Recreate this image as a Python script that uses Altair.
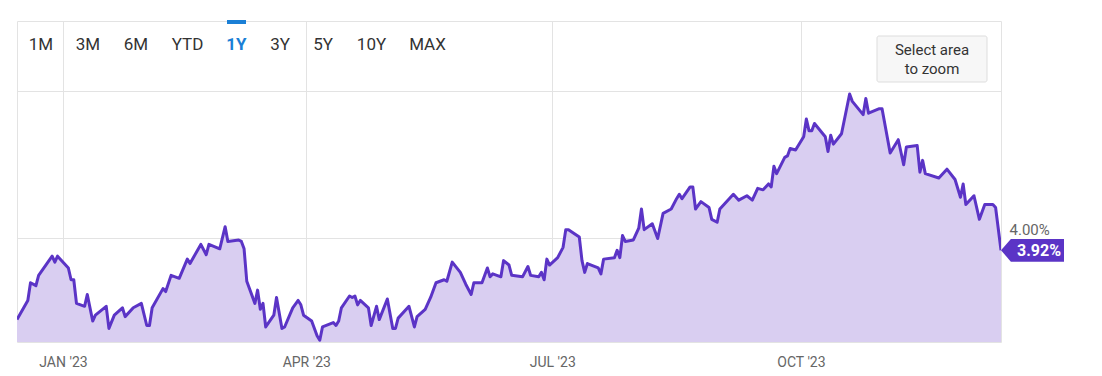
import altair as alt
import pandas as pd

dates = [
    "2022-12-15", "2022-12-19", "2022-12-20", "2022-12-22", "2022-12-23", "2022-12-28", "2022-12-29", "2022-12-30",
    "2023-01-03", "2023-01-04", "2023-01-05", "2023-01-06", "2023-01-09", "2023-01-10", "2023-01-12", "2023-01-13",
    "2023-01-17", "2023-01-18", "2023-01-20", "2023-01-23", "2023-01-24", "2023-01-27", "2023-01-30", "2023-02-01",
    "2023-02-02", "2023-02-03", "2023-02-07", "2023-02-08", "2023-02-10", "2023-02-13", "2023-02-16", "2023-02-17",
    "2023-02-21", "2023-02-23", "2023-02-24", "2023-02-28", "2023-03-02", "2023-03-03", "2023-03-07", "2023-03-08",
    "2023-03-09", "2023-03-10", "2023-03-13", "2023-03-14", "2023-03-15", "2023-03-16", "2023-03-17", "2023-03-20",
    "2023-03-21", "2023-03-23", "2023-03-24", "2023-03-27", "2023-03-29", "2023-03-30", "2023-03-31", "2023-04-03",
    "2023-04-05", "2023-04-06", "2023-04-07", "2023-04-11", "2023-04-12", "2023-04-13", "2023-04-14", "2023-04-17",
    "2023-04-18", "2023-04-19", "2023-04-20", "2023-04-21", "2023-04-24", "2023-04-25", "2023-04-27", "2023-04-28",
    "2023-05-01", "2023-05-03", "2023-05-04", "2023-05-05", "2023-05-09", "2023-05-11", "2023-05-12", "2023-05-15",
    "2023-05-17", "2023-05-19", "2023-05-22", "2023-05-23", "2023-05-25", "2023-05-28", "2023-05-30", "2023-06-01",
    "2023-06-02", "2023-06-05", "2023-06-07", "2023-06-08", "2023-06-09", "2023-06-12", "2023-06-13", "2023-06-15",
    "2023-06-16", "2023-06-20", "2023-06-22", "2023-06-23", "2023-06-26", "2023-06-27", "2023-06-28", "2023-06-29",
    "2023-06-30", "2023-07-03", "2023-07-05", "2023-07-06", "2023-07-07", "2023-07-11", "2023-07-12", "2023-07-13",
    "2023-07-14", "2023-07-18", "2023-07-19", "2023-07-20", "2023-07-24", "2023-07-25", "2023-07-26", "2023-07-27",
    "2023-07-28", "2023-07-31", "2023-08-02", "2023-08-03", "2023-08-04", "2023-08-07", "2023-08-09", "2023-08-11",
    "2023-08-14", "2023-08-16", "2023-08-17", "2023-08-18", "2023-08-21", "2023-08-22", "2023-08-23", "2023-08-25",
    "2023-08-28", "2023-08-29", "2023-08-31", "2023-09-01", "2023-09-06", "2023-09-08", "2023-09-11", "2023-09-13",
    "2023-09-15", "2023-09-17", "2023-09-19", "2023-09-20", "2023-09-21", "2023-09-22", "2023-09-25", "2023-09-26",
    "2023-09-27", "2023-09-29", "2023-10-02", "2023-10-03", "2023-10-04", "2023-10-05", "2023-10-06", "2023-10-10",
    "2023-10-11", "2023-10-12", "2023-10-13", "2023-10-16", "2023-10-19", "2023-10-20", "2023-10-24", "2023-10-25",
    "2023-10-26", "2023-10-30", "2023-10-31", "2023-11-03", "2023-11-06", "2023-11-08", "2023-11-09", "2023-11-13",
    "2023-11-14", "2023-11-15", "2023-11-16", "2023-11-21", "2023-11-24", "2023-11-27", "2023-11-29", "2023-11-30",
    "2023-12-01", "2023-12-04", "2023-12-06", "2023-12-08", "2023-12-11", "2023-12-12", "2023-12-14",
]

values = [
    3.45, 3.58, 3.70, 3.68, 3.75, 3.88, 3.84, 3.88,
    3.80, 3.72, 3.72, 3.56, 3.54, 3.62, 3.44, 3.48,
    3.54, 3.39, 3.48, 3.53, 3.47, 3.53, 3.56, 3.41,
    3.41, 3.53, 3.66, 3.64, 3.75, 3.73, 3.86, 3.83,
    3.96, 3.89, 3.96, 3.93, 4.08, 3.98, 3.99, 3.98,
    3.93, 3.71, 3.56, 3.65, 3.52, 3.56, 3.40, 3.48,
    3.60, 3.39, 3.40, 3.53, 3.58, 3.55, 3.48, 3.44,
    3.34, 3.31, 3.40, 3.43, 3.41, 3.44, 3.53, 3.61,
    3.60, 3.61, 3.55, 3.58, 3.53, 3.41, 3.54, 3.45,
    3.59, 3.39, 3.39, 3.46, 3.54, 3.40, 3.47, 3.52,
    3.60, 3.70, 3.72, 3.71, 3.84, 3.77, 3.69, 3.62,
    3.70, 3.70, 3.80, 3.74, 3.76, 3.74, 3.85, 3.82,
    3.75, 3.74, 3.81, 3.75, 3.74, 3.77, 3.72, 3.86,
    3.82, 3.87, 3.94, 4.06, 4.06, 4.01, 3.85, 3.77,
    3.83, 3.80, 3.76, 3.86, 3.87, 3.92, 3.87, 4.02,
    3.98, 3.99, 4.07, 4.20, 4.06, 4.10, 4.00, 4.17,
    4.20, 4.27, 4.30, 4.27, 4.35, 4.35, 4.20, 4.25,
    4.21, 4.13, 4.11, 4.20, 4.30, 4.26, 4.29, 4.26,
    4.34, 4.33, 4.37, 4.35, 4.49, 4.44, 4.55, 4.56,
    4.61, 4.60, 4.69, 4.81, 4.73, 4.73, 4.78, 4.69,
    4.59, 4.70, 4.64, 4.71, 4.98, 4.93, 4.84, 4.95,
    4.85, 4.88, 4.88, 4.58, 4.67, 4.50, 4.62, 4.63,
    4.45, 4.53, 4.44, 4.41, 4.47, 4.40, 4.28, 4.37,
    4.23, 4.29, 4.13, 4.23, 4.23, 4.21, 3.92,
]

range_tabs = ["1M", "3M", "6M", "YTD", "1Y", "3Y", "5Y", "10Y", "MAX"]
active_tab = "1Y"
button_lines = ["Select area", "to zoom"]
tick_months = [(2023, 1), (2023, 4), (2023, 7), (2023, 10)]
y_grid_values = [4.0, 5.0]
y_label_value = 4.0

# layout constants (pixels within the plot area)
tab_x = [24, 71, 119, 170.5, 219.5, 263, 306, 354.5, 410.5]
button_line_y = [29, 48]

FONT = "Roboto"
LINE = "#5b34c6"
FILL = "#d9cef1"
GRID = "#e3e3e3"

df = pd.DataFrame({"date": dates, "value": values})

x_scale = alt.Scale(
    type="utc",
    domain=[alt.DateTime(year=2022, month=12, date=15, utc=True),
            alt.DateTime(year=2023, month=12, date=14, utc=True)],
)
y_scale = alt.Scale(domain=[3.298, 5.475], zero=False, nice=False)

x_enc = alt.X(
    "date:T",
    scale=x_scale,
    axis=alt.Axis(
        values=[alt.DateTime(year=y, month=m, date=1, utc=True) for y, m in tick_months],
        labelExpr="upper(utcFormat(datum.value, \"%b '%y\"))",
        title=None, ticks=False, domain=False, grid=True, gridColor=GRID,
        labelColor="#666666", labelFontSize=14, labelFont=FONT, labelPadding=13,
    ),
)
y_enc = alt.Y(
    "value:Q",
    scale=y_scale,
    axis=alt.Axis(
        orient="right", values=y_grid_values, title=None, ticks=False, domain=False,
        grid=True, gridColor=GRID,
        labelExpr=f"datum.value == {y_label_value} ? format(datum.value, '.2f') + '%' : ''",
        labelColor="#666666", labelFontSize=15, labelFont=FONT, labelPadding=8,
        labelBaseline="bottom", labelOffset=-1,
    ),
)

base = alt.Chart(df)
area = base.mark_area(color=FILL, opacity=1, clip=True).encode(x=x_enc, y=y_enc)
line = base.mark_line(color=LINE, strokeWidth=3, strokeJoin="round", clip=True).encode(x=x_enc, y=y_enc)

last = alt.Chart(df.tail(1)).transform_calculate(label="format(datum.value, '.2f') + '%'")
badge = last.mark_point(
    shape="M0,0L0.33,-0.38L2.1,-0.38L2.1,0.38L0.33,0.38Z",
    size=3600, filled=True, opacity=1, color=LINE, strokeWidth=0,
).encode(x=x_enc, y=y_enc)
badge_text = last.mark_text(
    dx=38, dy=1, align="center", baseline="middle", font=FONT, fontSize=16,
    fontWeight="bold", color="white",
).encode(x=x_enc, y=y_enc, text="label:N")

layers = [area, line, badge, badge_text]

# range selector tabs
for lab, tx in zip(range_tabs, tab_x):
    active = lab == active_tab
    layers.append(
        alt.Chart(pd.DataFrame({"t": [lab]})).mark_text(
            font=FONT, fontSize=17, align="center", baseline="middle",
            color="#1a7fd6" if active else "#333333",
            fontWeight="bold" if active else "normal",
        ).encode(x=alt.value(tx), y=alt.value(24), text="t:N")
    )
    if active:
        layers.append(
            alt.Chart(pd.DataFrame({"t": [lab]})).mark_rect(color="#1a7fd6").encode(
                x=alt.value(tx - 9.5), x2=alt.value(tx + 9.5), y=alt.value(-1), y2=alt.value(3)
            )
        )

# "Select area to zoom" button
layers.append(
    alt.Chart(pd.DataFrame({"t": ["btn"]})).mark_rect(
        fill="#f7f7f7", stroke="#dddddd", strokeWidth=1, cornerRadius=2
    ).encode(x=alt.value(860), x2=alt.value(970), y=alt.value(15), y2=alt.value(61))
)
for txt, ty in zip(button_lines, button_line_y):
    layers.append(
        alt.Chart(pd.DataFrame({"t": [txt]})).mark_text(
            font=FONT, fontSize=15, align="center", baseline="middle", color="#333333"
        ).encode(x=alt.value(915), y=alt.value(ty), text="t:N")
    )

chart = alt.layer(*layers).properties(
    width=984, height=321,
    autosize=alt.AutoSizeParams(type="none"),
    padding={"left": 9, "top": 13, "right": 93, "bottom": 30},
).configure_view(stroke=GRID, strokeWidth=1)

chart.save("out.html", embed_options={"renderer": "svg", "actions": False})
